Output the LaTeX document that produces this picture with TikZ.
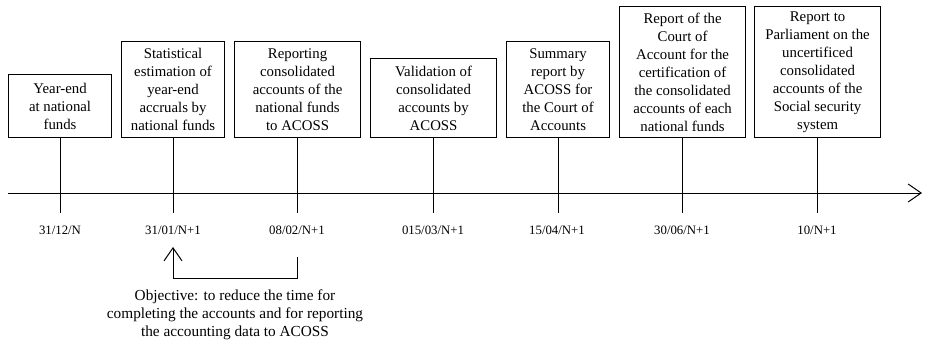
\documentclass[tikz,border=0pt]{standalone}
\usepackage{fontspec}
\setmainfont{Liberation Serif}
\usetikzlibrary{arrows.meta}
\begin{document}
\begin{tikzpicture}[x=1pt,y=-1pt,
  evbox/.style={draw, line width=1.1pt, inner sep=0pt, align=center,
    font=\fontsize{14.8}{18}\selectfont, anchor=north west},
  datelbl/.style={font=\fontsize{12.8}{14}\selectfont, inner sep=0pt},
  tline/.style={line width=1pt},
  barb/.style={-{Straight Barb[length=13pt,width=18pt,line width=1pt]}}]
\useasboundingbox (0,0) rectangle (925,340);
% boxes
\node[evbox, minimum width=103pt, minimum height=63pt] (b1) at (8,74) {Year-end\\at national\\funds};
\node[evbox, minimum width=103pt, minimum height=96pt] (b2) at (121,41) {Statistical\\estimation of\\year-end\\accruals by\\national funds};
\node[evbox, minimum width=126pt, minimum height=96pt] (b3) at (234,41) {Reporting\\consolidated\\accounts of the\\national funds\\to ACOSS};
\node[evbox, minimum width=126pt, minimum height=79pt] (b4) at (370,58) {Validation of\\consolidated\\accounts by\\ACOSS};
\node[evbox, minimum width=103pt, minimum height=96pt] (b5) at (506,41) {Summary\\report by\\ACOSS for\\the Court of\\Accounts};
\node[evbox, minimum width=126pt, minimum height=131pt] (b6) at (619,6) {Report of the\\Court of\\Account for the\\certification of\\the consolidated\\accounts of each\\national funds};
\node[evbox, minimum width=126pt, minimum height=131pt] (b7) at (754,6) {Report to\\Parliament on the\\uncertificed\\consolidated\\accounts of the\\Social security\\system};
% axis
\coordinate (axs) at (8,193);
\coordinate (axe) at (922,193);
\draw[tline, barb] (axs) -- (axe);
% ticks
\foreach \i in {1,...,7} {
  \coordinate (t\i) at (b\i.south |- 0,213);
  \draw[tline] (b\i.south) -- (t\i);
}
% dates
\node[datelbl] (d1) at (60,230) {31/12/N};
\node[datelbl] (d2) at (173,230) {31/01/N+1};
\node[datelbl] (d3) at (297,230) {08/02/N+1};
\node[datelbl] (d4) at (433,230) {015/03/N+1};
\node[datelbl] (d5) at (557,230) {15/04/N+1};
\node[datelbl] (d6) at (682,230) {30/06/N+1};
\node[datelbl] (d7) at (817,230) {10/N+1};
% bracket arrow
\coordinate (bs) at (297,257);
\coordinate (be) at (173,247);
\draw[tline, barb] (bs) -- (297,278) -- (173,278) -- (be);
\node[font=\fontsize{15.3}{18}\selectfont, align=center, inner sep=0pt] (obj) at (235,315)
  {Objective: to reduce the time for\\completing the accounts and for reporting\\the accounting data to ACOSS};
\end{tikzpicture}
\end{document}
